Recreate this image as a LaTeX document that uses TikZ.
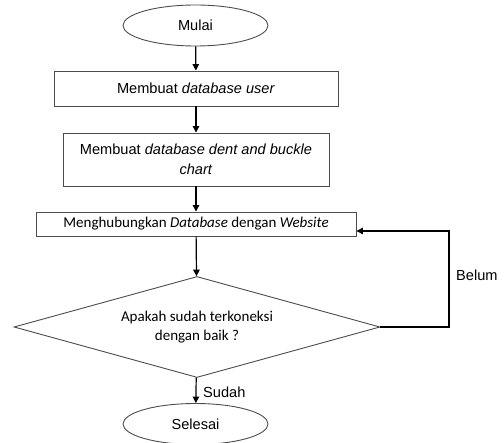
\documentclass[tikz,border=0pt]{standalone}
\usepackage{fontspec}
\setmainfont{Liberation Sans}
\newfontfamily\calfont{Carlito}
\usetikzlibrary{shapes.geometric,arrows.meta}
\begin{document}
\begin{tikzpicture}[x=1pt,y=-1pt,
  font=\fontsize{14.6}{20}\selectfont,
  shp/.style={draw=black!70, line width=0.9pt, inner sep=0pt},
  ell/.style={shp, ellipse, minimum width=145pt, minimum height=41pt},
  boxn/.style={shp, rectangle, align=center},
  dec/.style={shp, diamond, minimum width=366pt, minimum height=101pt, aspect=3.6, align=center},
  arr/.style={line width=1.2pt, draw=black, -{Triangle[length=6.5pt,width=6.5pt]}},
  lbl/.style={inner sep=0pt, anchor=west}]
\useasboundingbox (0,0) rectangle (504,443);
\node[ell] (start) at (195.5,25.5) {Mulai};
\node[boxn, minimum width=284pt, minimum height=35pt] (b1) at (196,88.5) {Membuat \textit{database user}};
\node[boxn, minimum width=266pt, minimum height=53pt] (b2) at (196,159.5) {Membuat \textit{database dent and buckle}\\ \textit{chart}};
\node[boxn, minimum width=320pt, minimum height=24pt, font=\calfont\fontsize{15}{19}\selectfont] (b3) at (196,224) {Menghubungkan \textit{Database} dengan \textit{Website}};
\node[dec, font=\calfont\fontsize{15}{19.5}\selectfont] (dia) at (197,327) {Apakah sudah terkoneksi\\ dengan baik ?};
\node[ell] (end) at (195.5,424) {Selesai};
\coordinate (lpT) at (449,231);
\draw[arr] (start) -- (b1);
\draw[arr] (b1) -- (b2);
\draw[arr] (b2) -- (b3);
\draw[arr] (b3) -- (dia);
\draw[arr] (dia) -- (end);
\draw[arr] (dia.east) -| (lpT) -- (lpT -| b3.east);
\node[lbl] (belum) at (456,275) {Belum};
\node[lbl] (sudah) at (203,392) {Sudah};
\end{tikzpicture}
\end{document}
